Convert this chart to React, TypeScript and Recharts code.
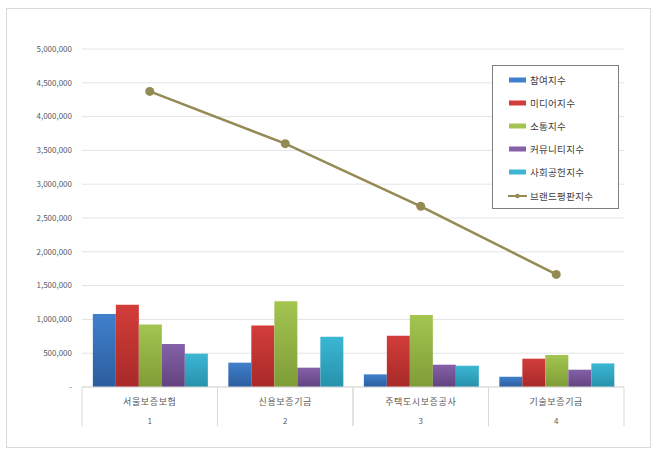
import React from "react";
import {
  ComposedChart,
  Bar,
  Line,
  XAxis,
  YAxis,
  CartesianGrid,
} from "recharts";

// 기관명과 순위 (x축 두 줄 라벨)
const companies = ["서울보증보험", "신용보증기금", "주택도시보증공사", "기술보증기금"];
const ranks = ["1", "2", "3", "4"];

// 지수 값
const participation = [1080000, 360000, 187000, 152000];
const media = [1217000, 911000, 759000, 419000];
const communication = [926000, 1267000, 1065000, 473000];
const community = [636000, 286000, 330000, 256000];
const social = [493000, 744000, 315000, 349000];
const brand = [4373000, 3600000, 2672000, 1666000];

const yTicks = [0, 500000, 1000000, 1500000, 2000000, 2500000, 3000000, 3500000, 4000000, 4500000, 5000000];

const FONT = '"Noto Sans CJK KR", "Noto Sans", sans-serif';

const barSeries = [
  { key: "participation", name: "참여지수", top: "#3f80cc", bottom: "#2c5d9e" },
  { key: "media", name: "미디어지수", top: "#d23d3a", bottom: "#a82a28" },
  { key: "communication", name: "소통지수", top: "#a3c550", bottom: "#7f9c37" },
  { key: "community", name: "커뮤니티지수", top: "#8561a8", bottom: "#62437f" },
  { key: "social", name: "사회공헌지수", top: "#3bb7d4", bottom: "#2891ab" },
];
const lineColor = "#948a54";

const data = companies.map((c, i) => ({
  company: c,
  rank: ranks[i],
  participation: participation[i],
  media: media[i],
  communication: communication[i],
  community: community[i],
  social: social[i],
  brand: brand[i],
}));

const formatY = (v: number) => (v === 0 ? "-" : v.toLocaleString("en-US"));

function CategoryTick(props: any) {
  const { x, y, payload } = props;
  const half = payload && payload.offset ? payload.offset : 67.8;
  const item = data[payload.index] || data.find((d) => d.company === payload.value);
  return (
    <g>
      <line x1={x - half} y1={y - 8} x2={x - half} y2={y + 31} stroke="#d9d9d9" />
      <line x1={x + half} y1={y - 8} x2={x + half} y2={y + 31} stroke="#d9d9d9" />
      <text x={x} y={y + 10} textAnchor="middle" fontSize={9} fill="#595959" fontFamily={FONT} letterSpacing={0.6}>
        {payload.value}
      </text>
      <text x={x} y={y + 29} textAnchor="middle" fontSize={8} fill="#595959" fontFamily={FONT}>
        {item ? item.rank : ""}
      </text>
    </g>
  );
}

function LegendBox() {
  const items = [
    ...barSeries.map((s) => ({ name: s.name, color: s.top, line: false })),
    { name: "브랜드평판지수", color: lineColor, line: true },
  ];
  return (
    <div
      style={{
        position: "absolute",
        left: 492,
        top: 65,
        width: 127,
        height: 144,
        border: "1px solid #7f7f7f",
        background: "#fff",
        boxSizing: "border-box",
        paddingTop: 2,
      }}
    >
      {items.map((it) => (
        <div key={it.name} style={{ display: "flex", alignItems: "center", height: 23.2, paddingLeft: 15 }}>
          <svg width={20} height={8} style={{ marginRight: 2 }}>
            {it.line ? (
              <g>
                <line x1={0} y1={4} x2={19} y2={4} stroke={it.color} strokeWidth={2} />
                <circle cx={9.5} cy={4} r={2.2} fill={it.color} />
              </g>
            ) : (
              <rect x={1} y={1.5} width={17} height={5} fill={it.color} />
            )}
          </svg>
          <span style={{ fontFamily: FONT, fontSize: 9.5, color: "#404040", letterSpacing: 0.3 }}>{it.name}</span>
        </div>
      ))}
    </div>
  );
}

export default function App() {
  return (
    <div style={{ position: "absolute", left: 0, top: 0, width: 660, height: 457, background: "#fff" }}>
      <div
        style={{
          position: "absolute",
          left: 6,
          top: 8,
          width: 645,
          height: 440,
          border: "1px solid #d9d9d9",
          boxSizing: "border-box",
        }}
      />
      <div style={{ position: "absolute", left: 0, top: 0 }}>
        <ComposedChart
          width={660}
          height={457}
          data={data}
          margin={{ top: 49, right: 36, bottom: 40, left: 12 }}
          barCategoryGap="8%"
          barGap={0}
        >
          <defs>
            {barSeries.map((s) => (
              <linearGradient key={s.key} id={`grad-${s.key}`} x1="0" y1="0" x2="0" y2="1">
                <stop offset="0%" stopColor={s.top} />
                <stop offset="100%" stopColor={s.bottom} />
              </linearGradient>
            ))}
          </defs>
          <CartesianGrid horizontal vertical={false} stroke="#e4e4e4" />
          <XAxis
            dataKey="company"
            axisLine={{ stroke: "#d9d9d9" }}
            tickLine={false}
            tick={<CategoryTick />}
            height={30}
            interval={0}
          />
          <YAxis
            width={70}
            domain={[0, 5000000]}
            ticks={yTicks}
            tickFormatter={formatY}
            axisLine={false}
            tickLine={false}
            tick={{ fontSize: 8, fill: "#595959", fontFamily: FONT }}
            tickMargin={4}
            interval={0}
          />
          {barSeries.map((s) => (
            <Bar
              key={s.key}
              dataKey={s.key}
              name={s.name}
              fill={`url(#grad-${s.key})`}
              isAnimationActive={false}
            />
          ))}
          <Line
            dataKey="brand"
            name="브랜드평판지수"
            stroke={lineColor}
            strokeWidth={2.5}
            dot={{ r: 4.5, fill: lineColor, stroke: lineColor, strokeWidth: 0 }}
            activeDot={false}
            isAnimationActive={false}
          />
        </ComposedChart>
      </div>
      <LegendBox />
    </div>
  );
}
